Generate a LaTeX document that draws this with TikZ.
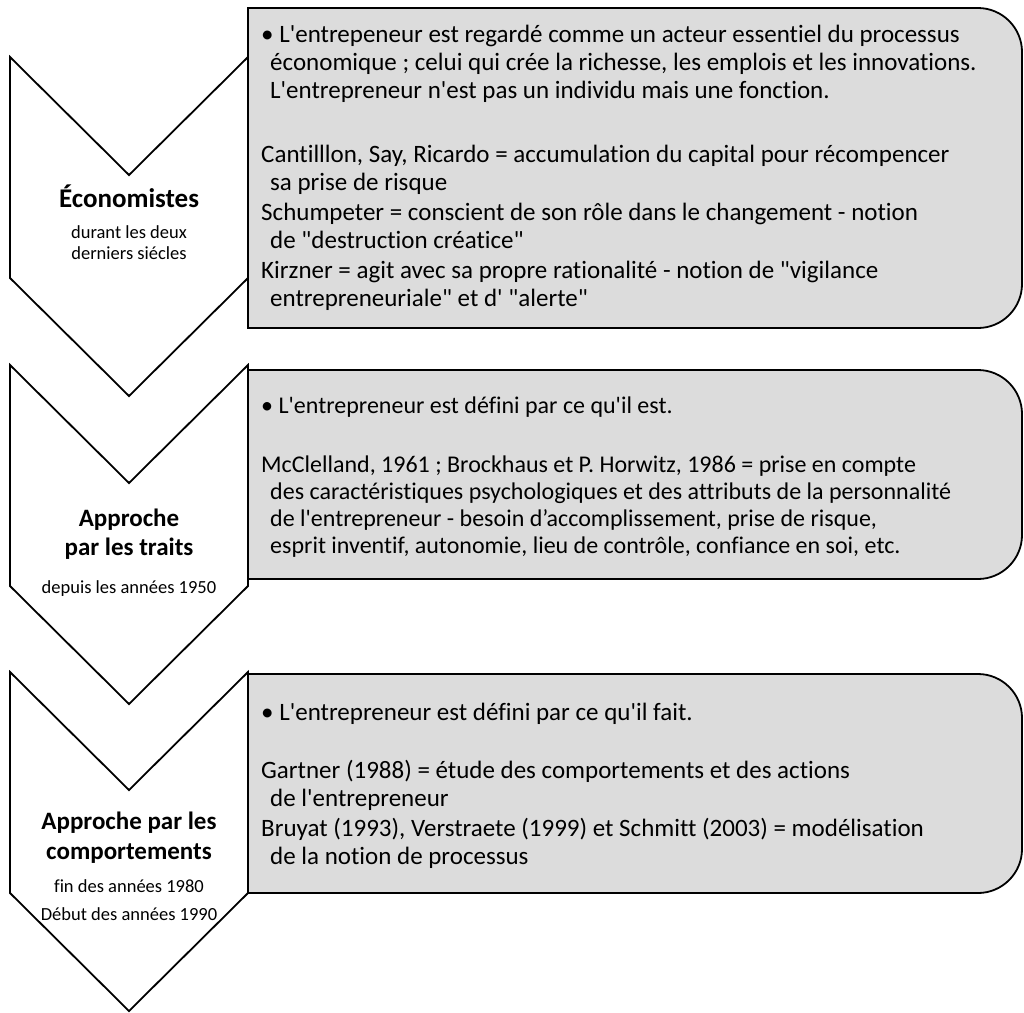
\documentclass[tikz,border=0pt]{standalone}
\usepackage{fontspec}
\setmainfont{Carlito}[Ligatures={TeXOff,CommonOff}]
\usetikzlibrary{positioning}

\definecolor{boxgray}{RGB}{220,220,220}

\tikzset{
  chevron/.style={draw=black,line width=1.8pt,fill=white,line join=miter},
  infobox/.style={draw=black,line width=1.8pt,fill=boxgray},
  steptitle/.style={font=\fontsize{25}{29}\selectfont\bfseries,align=center,anchor=base,inner sep=0pt},
  stepdate/.style={font=\fontsize{18.5}{21}\selectfont,align=center,anchor=base,inner sep=0pt},
  boxtext/.style={font=\fontsize{25}{28}\selectfont,align=left,anchor=base west,inner sep=0pt},
}

\newcommand{\ind}{\hspace*{9pt}}

\begin{document}
\begin{tikzpicture}[x=1pt,y=-1pt]
  \useasboundingbox (0,0) rectangle (1024,1012);
  \def\R{44}
  % grey boxes, rounded on the right only
  \foreach \t/\b in {8/328,370/579,674/893}{
    \draw[infobox] (248,\t) -- (1022-\R,\t) .. controls (1022-0.45*\R,\t) and (1022,\t+0.45*\R) .. (1022,\t+\R)
      -- (1022,\b-\R) .. controls (1022,\b-0.45*\R) and (1022-0.45*\R,\b) .. (1022-\R,\b) -- (248,\b) -- cycle;
  }
  % chevrons
  \foreach \t in {57,365,672}{
    \draw[chevron] (10,\t) -- (129,\t+118) -- (248,\t) -- (248,\t+221) -- (129,\t+339) -- (10,\t+221) -- cycle;
  }

  % labels in the chevrons (anchor = baseline of the last line)
  \node[steptitle,font=\fontsize{27}{29}\selectfont\bfseries] (eco) at (129,207) {Économistes};
  \node[stepdate] (ecodate) at (129,259) {durant les deux\\derniers siécles};
  \node[steptitle] (traits) at (129,555) {Approche\\par les traits};
  \node[stepdate] (traitsdate) at (129,593) {depuis les années 1950};
  \node[steptitle] (comport) at (129,859) {Approche par les\\[1pt]comportements};
  \node[stepdate] (comportdate) at (129,920) {fin des années 1980\\[7pt]Début des années 1990};

  % texts in the grey boxes
  \node[boxtext] (ecotext) at (261,306) {• L'entrepeneur est regardé comme un acteur essentiel du processus\\
    \ind économique ; celui qui crée la richesse, les emplois et les innovations.\\
    \ind L'entrepreneur n'est pas un individu mais une fonction.\\[36pt]
    Cantilllon, Say, Ricardo = accumulation du capital pour récompencer\\
    \ind sa prise de risque\\[2pt]
    Schumpeter = conscient de son rôle dans le changement - notion\\
    \ind de "destruction créatice"\\[2pt]
    Kirzner = agit avec sa propre rationalité - notion de "vigilance\\
    \ind entrepreneuriale" et d' "alerte"};
  \node[boxtext,font=\fontsize{24}{27}\selectfont] (traitstext) at (261,553) {• L'entrepreneur est défini par ce qu'il est.\\[32pt]
    McClelland, 1961 ; Brockhaus et P. Horwitz, 1986 = prise en compte\\
    \ind des caractéristiques psychologiques et des attributs de la personnalité\\
    \ind de l'entrepreneur - besoin d’accomplissement, prise de risque,\\
    \ind esprit inventif, autonomie, lieu de contrôle, confiance en soi, etc.};
  \node[boxtext] (comporttext) at (261,864) {• L'entrepreneur est défini par ce qu'il fait.\\[30pt]
    Gartner (1988) = étude des comportements et des actions\\
    \ind de l'entrepreneur\\[2pt]
    Bruyat (1993), Verstraete (1999) et Schmitt (2003) = modélisation\\
    \ind de la notion de processus};
\end{tikzpicture}
\end{document}
